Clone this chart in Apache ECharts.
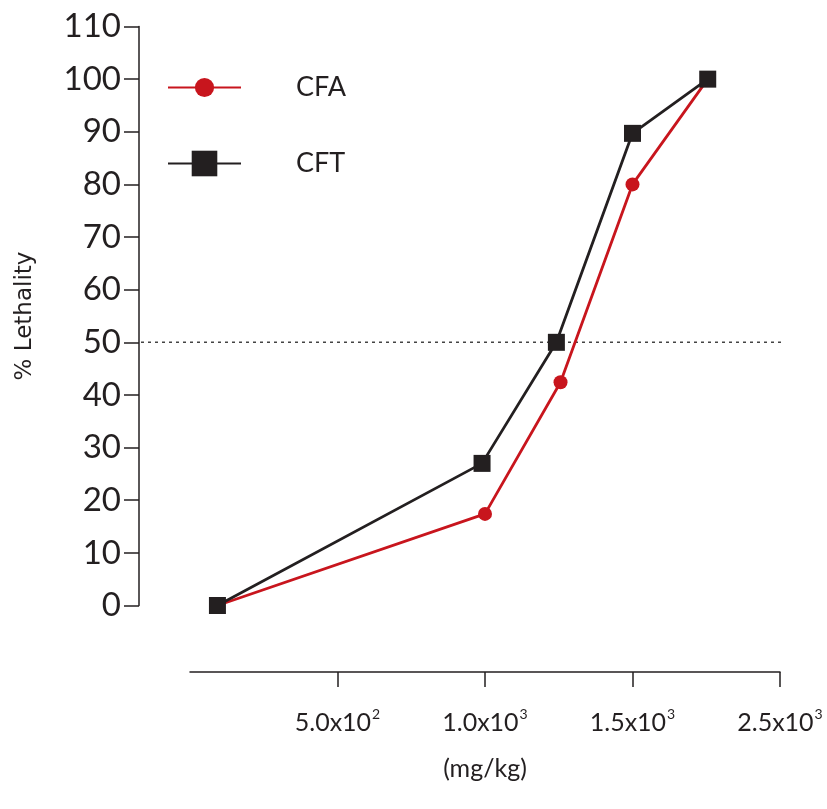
<!DOCTYPE html>
<html>
<head>
<meta charset="utf-8">
<script src="https://cdn.jsdelivr.net/npm/echarts@6/dist/echarts.min.js"></script>
<style>
html,body{margin:0;padding:0;background:#fff;}
#c{width:827px;height:809px;}
</style>
</head>
<body>
<div id="c"></div>
<script>
// ---- data ----
var seriesNames = ['CFA', 'CFT'];
var cfaDose = [93, 1000, 1256, 1500, 1755];
var cfaLethality = [0, 17.4, 42.4, 80, 100];
var cftDose = [93, 990, 1242, 1500, 1755];
var cftLethality = [0, 27, 50, 89.7, 100];
var xTickValues = [500, 1000, 1500, 2000];
var xTickMantissa = ['5.0x10', '1.0x10', '1.5x10', '2.5x10'];
var xTickExponent = ['2', '3', '3', '3'];
var refLineY = 50;

var RED = '#c8151d';
var BLK = '#231f20';

function pairs(xs, ys) { return xs.map(function (x, i) { return [x, ys[i]]; }); }

var chart = echarts.init(document.getElementById('c'));
chart.setOption({
  animation: false,
  backgroundColor: '#fff',
  grid: [
    { left: 190, right: 47, top: 26.5, height: 579 },
    { left: 141, right: 45, top: 26.5, height: 579 }
  ],
  xAxis: [{
    type: 'value', gridIndex: 0, min: 0, max: 2000, interval: 500,
    offset: 66.5,
    name: '(mg/kg)', nameLocation: 'middle', nameGap: 84,
    nameTextStyle: { fontFamily: 'Lato', fontSize: 25, color: BLK },
    axisLine: { show: true, onZero: false, lineStyle: { color: BLK, width: 1.5 } },
    axisTick: { show: true, length: 15, customValues: xTickValues, lineStyle: { color: BLK, width: 1.5 } },
    splitLine: { show: false },
    axisLabel: {
      customValues: xTickValues, margin: 35,
      formatter: function (v) {
        var i = xTickValues.indexOf(v);
        if (i < 0) return '';
        return '{b|' + xTickMantissa[i] + '}{s|' + xTickExponent[i] + '}';
      },
      rich: {
        b: { fontFamily: 'Lato', fontSize: 25, color: BLK, verticalAlign: 'bottom', lineHeight: 28 },
        s: { fontFamily: 'Lato', fontSize: 14, color: BLK, verticalAlign: 'top', lineHeight: 28, padding: [0, 0, 0, 1] }
      }
    }
  }, {
    type: 'value', gridIndex: 1, min: 0, max: 1, show: false
  }],
  yAxis: [{
    type: 'value', gridIndex: 0, min: 0, max: 110, interval: 10,
    offset: 51,
    name: '% Lethality', nameLocation: 'middle', nameGap: 102, nameRotate: 90,
    nameTextStyle: { fontFamily: 'DejaVu Sans', fontSize: 23, color: BLK },
    axisLine: { show: true, onZero: false, lineStyle: { color: BLK, width: 1.5 } },
    axisTick: { show: true, length: 15, lineStyle: { color: BLK, width: 1.5 } },
    splitLine: { show: false },
    axisLabel: { margin: 18, fontFamily: 'Lato', fontSize: 33, color: BLK }
  }, {
    type: 'value', gridIndex: 1, min: 0, max: 110, show: false
  }],
  legend: [{
    data: [seriesNames[0]], orient: 'vertical', left: 167, top: 74, padding: 0,
    itemWidth: 73, itemHeight: 24,
    textStyle: { fontFamily: 'Lato', fontSize: 27, color: BLK, padding: [0, 0, 0, 50] }
  }, {
    data: [seriesNames[1]], orient: 'vertical', left: 167, top: 150, padding: 0,
    itemWidth: 73, itemHeight: 32,
    textStyle: { fontFamily: 'Lato', fontSize: 27, color: BLK, padding: [0, 0, 0, 50] }
  }],
  series: [{
    name: seriesNames[0], type: 'line', xAxisIndex: 0, yAxisIndex: 0,
    data: pairs(cfaDose, cfaLethality),
    symbol: 'circle', symbolSize: 14,
    lineStyle: { color: RED, width: 2.8 }, itemStyle: { color: RED },
    z: 3
  }, {
    name: seriesNames[1], type: 'line', xAxisIndex: 0, yAxisIndex: 0,
    data: pairs(cftDose, cftLethality),
    symbol: 'rect', symbolSize: 17,
    lineStyle: { color: BLK, width: 2.8 }, itemStyle: { color: BLK },
    z: 4
  }, {
    name: 'ref', type: 'line', xAxisIndex: 1, yAxisIndex: 1,
    data: [[0, refLineY], [1, refLineY]],
    symbol: 'none', silent: true,
    lineStyle: { color: '#444', width: 1.5, type: [3, 4] },
    z: 1
  }]
});
</script>
</body>
</html>
